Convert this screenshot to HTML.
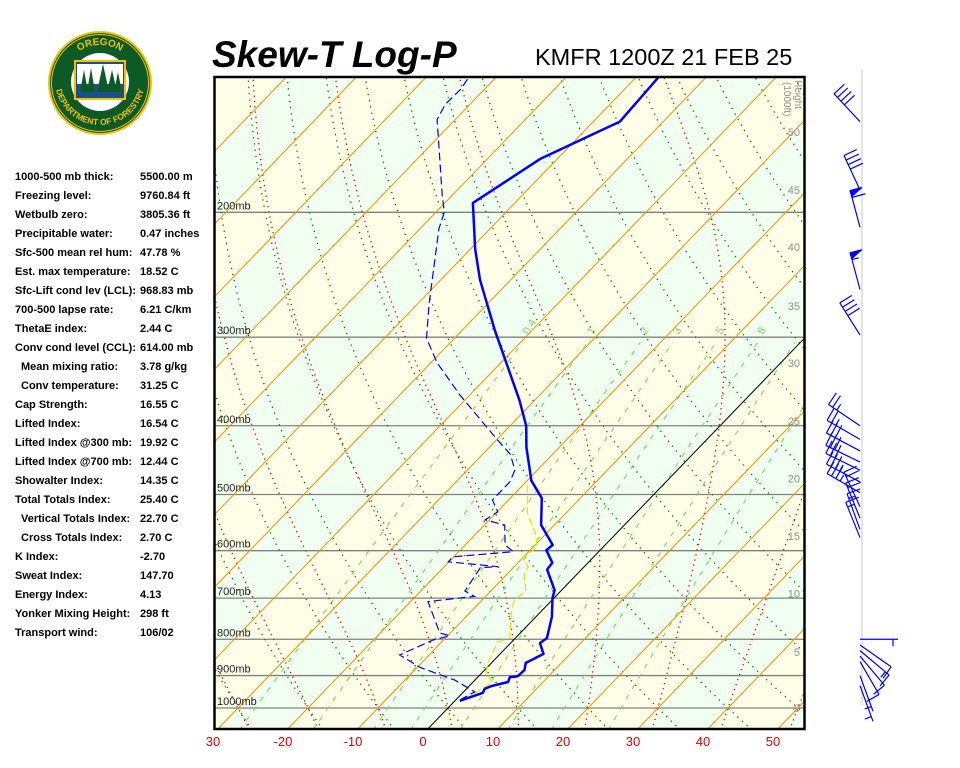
<!DOCTYPE html>
<html><head><meta charset="utf-8">
<style>
html,body{margin:0;padding:0;background:#fff;}
svg{display:block;font-family:"Liberation Sans",sans-serif;}
</style></head>
<body>
<svg id="chart" width="960" height="768" viewBox="0 0 960 768" xmlns="http://www.w3.org/2000/svg">
<defs><clipPath id="plotclip"><rect x="215" y="77" width="589" height="651"/></clipPath>
<path id="arcTop" d="M62,83 A38,38 0 0 1 138,83"/>
<path id="arcBot" d="M55,80 A45,45 0 0 0 145,80"/>
</defs>
<g>
<circle cx="100" cy="83" r="52" fill="#f2c200"/>
<circle cx="100" cy="83" r="50" fill="#0d5a26"/>
<circle cx="100" cy="83" r="48.5" fill="none" stroke="#f2c200" stroke-width="1"/>
<circle cx="100" cy="82" r="29" fill="#fff"/>
<path d="M74,60 L126,60 L126,100 L74,100 Z" fill="#f2c200"/>
<path d="M76,62 L124,62 L124,98 L76,98 Z" fill="#1b4f8a"/>
<path d="M77,64 L123,64 L123,84 L77,84 Z" fill="#fff"/>
<path d="M80,92 L84,70 L88,92 Z M87,92 L91,68 L95,92 Z M97,92 L103,64 L109,92 Z M107,92 L112,70 L117,92 Z M114,92 L118,72 L122,92 Z" fill="#0d5a26"/>
<text font-size="10" font-weight="bold" fill="#f2c200" text-anchor="middle"><textPath href="#arcTop" startOffset="50%">OREGON</textPath></text>
<text font-size="8.5" font-weight="bold" fill="#f2c200" text-anchor="middle"><textPath href="#arcBot" startOffset="50%">DEPARTMENT OF FORESTRY</textPath></text>
</g>
<text x="212" y="67" font-size="37" font-weight="bold" font-style="italic">Skew-T Log-P</text>
<text x="535" y="65" font-size="23.5">KMFR 1200Z 21 FEB 25</text>
<g id="indices" font-size="11" font-weight="bold"></g>
<g id="plot" clip-path="url(#plotclip)"></g>
<g id="over"></g>
<g id="barbs"></g>
</svg>
<script>
const indexLabels=["1000-500 mb thick:","Freezing level:","Wetbulb zero:","Precipitable water:","Sfc-500 mean rel hum:","Est. max temperature:","Sfc-Lift cond lev (LCL):","700-500 lapse rate:","ThetaE index:","Conv cond level (CCL):"," Mean mixing ratio:"," Conv temperature:","Cap Strength:","Lifted Index:","Lifted Index @300 mb:","Lifted Index @700 mb:","Showalter Index:","Total Totals Index:"," Vertical Totals Index:"," Cross Totals Index:","K Index:","Sweat Index:","Energy Index:","Yonker Mixing Height:","Transport wind:"];
const indexValues=["5500.00 m","9760.84 ft","3805.36 ft","0.47 inches","47.78 %","18.52 C","968.83 mb","6.21 C/km","2.44 C","614.00 mb","3.78 g/kg","31.25 C","16.55 C","16.54 C","19.92 C","12.44 C","14.35 C","25.40 C","22.70 C","2.70 C","-2.70","147.70","4.13","298 ft","106/02"];
const tempP=[977,952,940,931,919,905,902,884,864,839,810,797,744,700,682,638,624,599,589,552,506,478,429,400,368,293,249,225,194,168,149,129];
const tempT=[0.7,2.9,2.6,3.2,5.0,4.6,5.6,5.7,4.9,6.2,4.2,4.5,2.3,-0.2,-1.0,-4.9,-5.1,-7.7,-7.5,-11.9,-15.5,-19.4,-24.7,-27.7,-32.2,-45.4,-54.4,-59.4,-66,-62.4,-56.2,-56.8];
const dewP=[974,949,913,877,842,802,791,784,708,696,684,634,632,622,612,602,589,552,543,529,509,480,462,439,417,392,362,326,301,269,211,200,189,148,141,134,129];
const dewT=[0.6,1.6,-2.9,-9.5,-14.2,-11.5,-9.7,-11.5,-17.5,-11.6,-13.7,-14.7,-12.3,-20.1,-20.1,-12.2,-14.3,-17.1,-20.6,-19.9,-22.3,-22.3,-23.2,-26,-30.2,-35.1,-41.4,-49.1,-54,-58.4,-67.3,-68.8,-71.5,-82.6,-83.5,-83.4,-83.9];
const wbP=[974,941,919,893,864,807,797,735,707,682,650,632,614,593,566,531,478];
const wbT=[1.3,2.1,2.8,0.6,-0.5,-2,-0.8,-4,-5.3,-5.1,-7.4,-8,-10,-9.4,-11.7,-15.5,-20];
const isoTemps=[-110,-100,-90,-80,-70,-60,-50,-40,-30,-20,-10,10,20,30,40,50,60];
const dryTheta=[-30,-20,-10,0,10,20,30,40,50,60,70,80,90,100,110,120,130,140,150,160,170];
const moistStart=[-30,-20,-10,0,10,20,30,40,50];
const mixRatios=[0.4,1,2,3,5,8,12,20];
const mixLabels=["0.4","1","2","3","5","8","",""];
const pressureLevels=[1000,900,800,700,600,500,400,300,200];
const axisTemps=[-30,-20,-10,0,10,20,30,40,50];
const axisTempLabels=["30","-20","-10","0","10","20","30","40","50"];
const heightLabels=["0","5","10","15","20","25","30","35","40","45","50"];
const heightP=[1000,834,690,572,475,394,326,271,224,186,154];
const barbP=[149,186,210,257,298,400,418,434,450,462,480,497,520,540,560,575,800,815,830,845,860,900,930];
const barbDir=[317,335,345,345,328,304,300,298,296,296,298,300,335,338,340,338,90,125,130,140,150,160,160];
const barbSpd=[40,40,60,55,40,25,25,30,30,30,35,35,20,20,15,15,5,10,15,10,10,5,5];

const NS="http://www.w3.org/2000/svg";
const Y0=708,K=308;
function yOf(p){return Y0-K*Math.log(1000/p);}
function xOf(T,p){return 448+7*T+0.964*(Y0-yOf(p));}
function mk(tag,attrs,parent){const e=document.createElementNS(NS,tag);for(const k in attrs)e.setAttribute(k,attrs[k]);parent.appendChild(e);return e;}
const plot=document.getElementById('plot'),over=document.getElementById('over'),barbs=document.getElementById('barbs'),ind=document.getElementById('indices');
const PB=1075,PT=125;

indexLabels.forEach((l,i)=>{
  const y=180+i*19;
  const ind1=l.startsWith(' ');
  const t=mk('text',{x:ind1?21:15,y:y},ind);t.textContent=l.trim();
  
  
  const v=mk('text',{x:140,y:y},ind);v.textContent=indexValues[i];
  
  
});

mk('rect',{x:214,y:76,width:592,height:654,fill:'#f0fff0'},plot);
for(let T=-120;T<=60;T+=20){
  const d=`M${xOf(T,PB)},${yOf(PB)} L${xOf(T,PT)},${yOf(PT)} L${xOf(T+10,PT)},${yOf(PT)} L${xOf(T+10,PB)},${yOf(PB)} Z`;
  const b=mk('path',{d:d,fill:'#ffffe8'},plot);
  
  
}
pressureLevels.forEach(p=>{
  const l=mk('line',{x1:214,x2:806,y1:yOf(p),y2:yOf(p),stroke:'#808080','stroke-width':1.3},plot);
  
  
});
function poly(pts,attrs,name){
  const e=mk('polyline',Object.assign({points:pts.map(a=>a[0].toFixed(1)+','+a[1].toFixed(1)).join(' '),fill:'none'},attrs),plot);
  
  
  return e;
}
mixRatios.forEach((w,i)=>{
  const pts=[];
  for(let p=PB;p>=300;p-=10){const e=w*p/(622+w);const L=Math.log(e/6.112);const Td=243.5*L/(17.67-L);pts.push([xOf(Td,p),yOf(p)]);}
  poly(pts,{stroke:'#66dd55','stroke-width':1,'stroke-dasharray':'5,7'},'mixing-ratio-line');
  if(mixLabels[i]){
    const e=w*300/(622+w),L=Math.log(e/6.112),Td=243.5*L/(17.67-L);
    const t=mk('text',{x:xOf(Td,300)+2,y:yOf(300)-2,'font-size':11,fill:'#77dd66',transform:`rotate(-60 ${xOf(Td,300)+2} ${yOf(300)-2})`},plot);
    t.textContent=mixLabels[i];
    
    
  }
});
dryTheta.forEach(th=>{
  const pts=[];
  for(let p=PB;p>=PT;p-=10){const T=(th+273.15)*Math.pow(p/1000,0.2857)-273.15;pts.push([xOf(T,p),yOf(p)]);}
  poly(pts,{stroke:'#008000','stroke-width':1.3,'stroke-dasharray':'1.3,5'},'dry-adiabat');
});
function es(T){return 6.112*Math.exp(17.67*T/(T+243.5));}
moistStart.forEach(T0=>{
  const pts=[];
  function dTdp(T,p){const Tk=T+273.15;const rs=0.622*es(T)/(p-es(T));const Lv=2.5e6,Rd=287,cp=1005;
    return (Rd*Tk+Lv*rs)/(cp+Lv*Lv*rs*0.622/(Rd*Tk*Tk))/p;}
  let T=T0,p=1000;
  const down=[];let Td=T0;for(let pp=1000;pp<PB;pp+=5){Td+=dTdp(Td,pp)*5;down.push([xOf(Td,pp+5),yOf(pp+5)]);}
  down.reverse().forEach(a=>pts.push(a));
  pts.push([xOf(T,p),yOf(p)]);
  while(p>PT){T-=dTdp(T,p)*5;p-=5;pts.push([xOf(T,p),yOf(p)]);}
  poly(pts,{stroke:'#ff0000','stroke-width':1.3,'stroke-dasharray':'1.3,4'},'moist-adiabat');
});
isoTemps.forEach(T=>{
  const l=mk('line',{x1:xOf(T,PB),y1:yOf(PB),x2:xOf(T,PT),y2:yOf(PT),stroke:'#ff8c00','stroke-width':1},plot);
  
  
});
const z=mk('line',{x1:xOf(0,PB),y1:yOf(PB),x2:xOf(0,PT),y2:yOf(PT),stroke:'#000','stroke-width':1},plot);


poly(wbP.map((p,i)=>[xOf(wbT[i],p),yOf(p)]),{stroke:'#e6e600','stroke-width':1.2,'stroke-dasharray':'8,3'},'wetbulb-profile');
poly(dewP.map((p,i)=>[xOf(dewT[i],p),yOf(p)]),{stroke:'#0000ff','stroke-width':1.2,'stroke-dasharray':'8,4'},'dewpoint-profile');
poly(tempP.map((p,i)=>[xOf(tempT[i],p),yOf(p)]),{stroke:'#0000ff','stroke-width':2.5,'stroke-linejoin':'round'},'temperature-profile');

pressureLevels.forEach(p=>{
  const t=mk('text',{x:217,y:yOf(p)-3,'font-size':11,fill:'#222'},over);t.textContent=p+'mb';
  
  
});
heightLabels.forEach((h,i)=>{
  const t=mk('text',{x:800,y:yOf(heightP[i])+4,'font-size':11,fill:'#909090','text-anchor':'end'},over);t.textContent=h;
  
  
});
const ht=mk('text',{x:0,y:0,'font-size':10,fill:'#909090',transform:'translate(795,80) rotate(90)'},over);
ht.textContent='Height';


const ht2=mk('text',{x:0,y:0,'font-size':10,fill:'#909090',transform:'translate(784,82) rotate(90)'},over);
ht2.textContent='(1000ft)';


const fr=mk('rect',{x:214.5,y:77,width:590,height:652,fill:'none',stroke:'#000','stroke-width':2.5},over);


axisTemps.forEach((T,i)=>{
  const t=mk('text',{x:423+7*T,y:746,'font-size':13,fill:'#e00000','text-anchor':'middle'},over);t.textContent=axisTempLabels[i];
  
  
});
const bl=mk('line',{x1:862,y1:70,x2:862,y2:705,stroke:'#e4e4e4','stroke-width':2},barbs);


barbP.forEach((p,i)=>{
  const g=mk('g',{stroke:'#0000ff','stroke-width':1.2,fill:'#0000ff'},barbs);
  
  
  const bx=860,by=yOf(p),L=38,a=barbDir[i]*Math.PI/180;
  const ux=Math.sin(a),uy=-Math.cos(a),px=-uy,py=ux;
  const tx=bx+ux*L,ty=by+uy*L;
  mk('line',{x1:bx,y1:by,x2:tx,y2:ty},g);
  let s=barbSpd[i],pos=0;
  while(s>=50){const x1=tx-ux*pos,y1=ty-uy*pos,x2=tx-ux*(pos+6),y2=ty-uy*(pos+6);
    mk('polygon',{points:`${x1},${y1} ${x1+px*12},${y1+py*12} ${x2},${y2}`},g);pos+=7;s-=50;}
  while(s>=10){const x1=tx-ux*pos,y1=ty-uy*pos;mk('line',{x1:x1,y1:y1,x2:x1+px*14,y2:y1+py*14},g);pos+=5;s-=10;}
  if(s>=5){if(pos===0)pos=5;const x1=tx-ux*pos,y1=ty-uy*pos;mk('line',{x1:x1,y1:y1,x2:x1+px*7,y2:y1+py*7},g);}
});
</script>
</body></html>
